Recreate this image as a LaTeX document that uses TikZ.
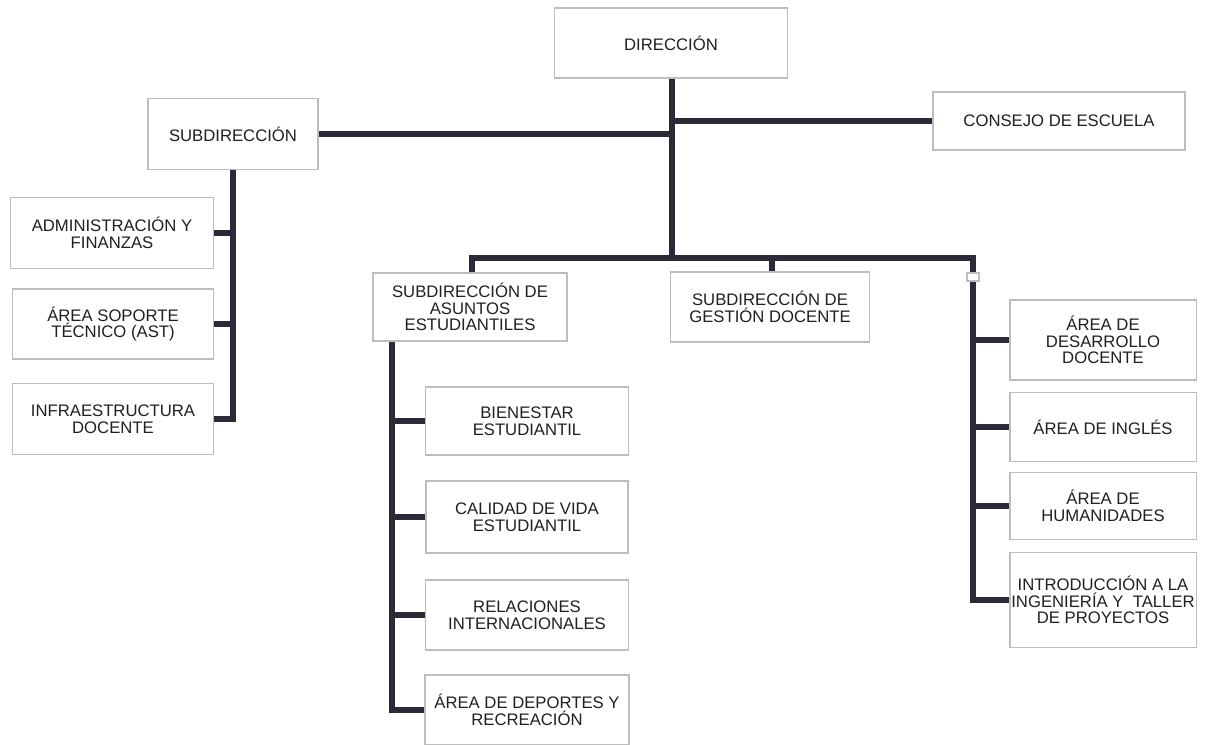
\documentclass[tikz,border=0pt]{standalone}
\usepackage{fontspec}
\setmainfont{Liberation Sans}
\definecolor{linkcol}{HTML}{2B2A38}
\definecolor{boxline}{HTML}{BDBDBD}
\definecolor{txtcol}{HTML}{202020}
\tikzset{
  unit/.style={draw=boxline, line width=1.1pt, fill=white, align=center, text=txtcol,
    font=\fontsize{9.5}{9.5}\selectfont, inner sep=1pt},
  link/.style={draw=linkcol, line width=3.3pt},
  joint/.style={draw=boxline, line width=0.8pt, fill=white, minimum width=0.24cm, minimum height=0.16cm, inner sep=0pt},
}

\begin{document}
\begin{tikzpicture}[x=0.02cm, y=-0.02cm]
        \useasboundingbox (0,0) rectangle (1209,744);

        % top level
        \node[unit, minimum width=4.66cm, minimum height=1.4cm] (dir) at (671,43) {DIRECCIÓN};
        \node[unit, minimum width=3.4cm, minimum height=1.42cm] (sub) at (233,134) {SUBDIRECCIÓN};
        \node[unit, minimum width=5.04cm, minimum height=1.16cm] (consejo) at (1059,121) {CONSEJO DE ESCUELA};

        % subdireccion
        \node[unit, minimum width=4.06cm, minimum height=1.42cm] (adm) at (112,233) {ADMINISTRACIÓN Y\\FINANZAS};
        \node[unit, minimum width=4.02cm, minimum height=1.4cm] (ast) at (113,324) {ÁREA SOPORTE\\TÉCNICO (AST)};
        \node[unit, minimum width=4.02cm, minimum height=1.42cm] (infra) at (113,419) {INFRAESTRUCTURA\\DOCENTE};

        % subdirecciones
        \node[unit, minimum width=3.88cm, minimum height=1.36cm] (sae) at (470,307) {SUBDIRECCIÓN DE\\ASUNTOS\\ESTUDIANTILES};
        \node[unit, minimum width=3.98cm, minimum height=1.4cm] (sgd) at (770,307) {SUBDIRECCIÓN DE\\GESTIÓN DOCENTE};
        \node[joint] (sw) at (973,277) {};

        % asuntos estudiantiles
        \node[unit, minimum width=4.06cm, minimum height=1.36cm] (bien) at (527,421) {BIENESTAR\\ESTUDIANTIL};
        \node[unit, minimum width=4.04cm, minimum height=1.44cm] (cal) at (527,517) {CALIDAD DE VIDA\\ESTUDIANTIL};
        \node[unit, minimum width=4.06cm, minimum height=1.4cm] (rel) at (527,615) {RELACIONES\\INTERNACIONALES};
        \node[unit, minimum width=4.08cm, minimum height=1.4cm] (dep) at (527,710) {ÁREA DE DEPORTES Y\\RECREACIÓN};

        % gestion docente
        \node[unit, minimum width=3.74cm, minimum height=1.6cm] (des) at (1103,340) {ÁREA DE\\DESARROLLO\\DOCENTE};
        \node[unit, minimum width=3.74cm, minimum height=1.38cm] (ing) at (1103,427) {ÁREA DE INGLÉS};
        \node[unit, minimum width=3.74cm, minimum height=1.34cm] (hum) at (1103,506) {ÁREA DE\\HUMANIDADES};
        \node[unit, minimum width=3.74cm, minimum height=1.9cm] (intro) at (1103,600) {INTRODUCCIÓN A LA\\INGENIERÍA Y\ \ TALLER\\DE PROYECTOS};

        \coordinate (bus) at (672,258);
        \coordinate (sae-trunk) at ([xshift=0.4cm]sae.south west);

        \draw[link] ([xshift=0.02cm]dir.south) -- ([xshift=0.02cm]dir.south |- bus);
        \draw[link] (sub) -- (sub -| bus);
        \draw[link] (consejo) -- (consejo -| bus);
        \draw[link] ([xshift=0.04cm]sae.north) |- (bus) -| (sw.north);
        \draw[link] ([xshift=0.04cm]sgd.north) -- ([xshift=0.04cm]sgd.north |- bus);

        \draw[link] (sub.south) |- (infra.east);
        \draw[link] (adm.east) -- (adm.east -| sub.south);
        \draw[link] (ast.east) -- (ast.east -| sub.south);

        \draw[link] (sae-trunk) |- (dep.west);
        \draw[link] (bien.west) -- (bien.west -| sae-trunk);
        \draw[link] (cal.west) -- (cal.west -| sae-trunk);
        \draw[link] (rel.west) -- (rel.west -| sae-trunk);

        \draw[link] (sw.south) |- (intro.west);
        \draw[link] (des.west) -- (des.west -| sw.south);
        \draw[link] (ing.west) -- (ing.west -| sw.south);
        \draw[link] (hum.west) -- (hum.west -| sw.south);
\end{tikzpicture}
\end{document}
